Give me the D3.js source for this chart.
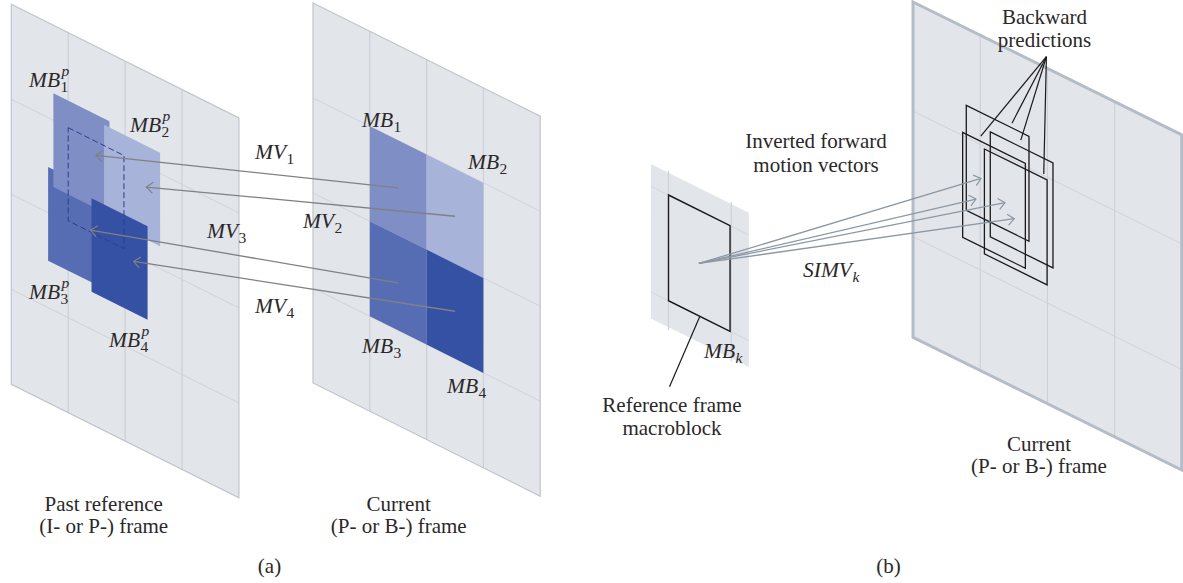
<!DOCTYPE html>
<html><head><meta charset="utf-8">
<script src="https://cdn.jsdelivr.net/npm/d3@7"></script>
<style>
html,body{margin:0;padding:0;background:#fff;overflow:hidden}
svg{display:block}
text{font-family:"Liberation Serif",serif;fill:#2b2829}
</style></head><body>
<svg id="c" width="1183" height="583"></svg>
<script>
// ---- data: everything is in grid-cell units of each frame (u across, v down)
const gridRowsPast = [1, 2, 3];
const gridColsPast = [1, 2, 3];
const gridRowsBack = [0.867, 1.867];
const gridColsBack = [1, 2, 3];
const blocksCurrent = [
  {name: "MB1", u: 1, v: 1, shade: "#7f8ec4"},
  {name: "MB2", u: 2, v: 1, shade: "#a8b3da"},
  {name: "MB3", u: 1, v: 2, shade: "#566db3"},
  {name: "MB4", u: 2, v: 2, shade: "#3451a4"}
];
const blocksPast = [
  {name: "MB3p", u: 0.647, v: 1.52, shade: "#566db3"},
  {name: "MB1p", u: 0.74,  v: 0.716, shade: "#7f8ec4"},
  {name: "MB2p", u: 1.63,  v: 0.78, shade: "#a8b3da"},
  {name: "MB4p", u: 1.41,  v: 1.62, shade: "#3451a4"}
];
const colocated = {u: 1, v: 1};
const motionVectors = [
  {from: [1.5, 1.5], to: [1.487, 1.145]},
  {from: [2.5, 1.5], to: [2.373, 1.214]},
  {from: [1.5, 2.5], to: [1.392, 1.96]},
  {from: [2.5, 2.5], to: [2.15, 2.063]}
];
const backwardBlocks = [
  {u: 0.793, v: 0.6126},
  {u: 0.739, v: 0.8417},
  {u: 1.15,  v: 0.730},
  {u: 1.0625, v: 0.8886}
];
const simvEnds = [[1.011, 1.137], [0.9375, 1.32], [1.369, 1.235], [1.507, 1.326]];
const leaderOrigin = [1.985, -0.089];
const leaderEnds = [[1.009, 0.8], [1.473, 0.575], [1.604, 0.675], [1.946, 0.854]];
const refOrigin = [0.484, 0.505];
const refLeader = [[0.5, 1.0], [0.016, 1.81]];

const mathLabels = [
  ["MB","1","p",29,87],["MB","2","p",130,132],["MB","3","p",29,299],["MB","4","p",109,347],
  ["MV","1",null,255,159],["MV","2",null,303,228],["MV","3",null,207,238],["MV","4",null,255,313],
  ["MB","1",null,362,127],["MB","2",null,468,169],["MB","3",null,362,353],["MB","4",null,447,393],
  ["MB","k",null,704,358],["SIMV","k",null,803,277]
];
const captions = [
  ["Past reference",103.7,511],["(I- or P-) frame",103.7,533],
  ["Current",398.7,511],["(P- or B-) frame",398.7,533],
  ["(a)",269.5,573],["(b)",888.5,573],
  ["Current",1039,451],["(P- or B-) frame",1039,473],
  ["Reference frame",672,412],["macroblock",672,434.5],
  ["Inverted forward",816,148],["motion vectors",816,172],
  ["Backward",1044.5,24],["predictions",1044.5,47]
];

// ---- planes: linear scales from grid units to the page
function plane(x0, cw, y0, ch, skew) {
  const sx = d3.scaleLinear().domain([0, 1]).range([x0, x0 + cw]);
  const sy = d3.scaleLinear().domain([0, 1]).range([y0, y0 + ch]);
  const sk = d3.scaleLinear().domain([0, 1]).range([0, skew]);
  return (u, v) => [sx(u), sy(v) + sk(u)];
}
const past = plane(11.3, 56.9, 4.3, 95, 28.4);
const curr = plane(313, 56.8, 3, 95, 28.3);
const back = plane(913, 67.2, 2, 125.7, 33.2);
const ref  = plane(668.5, 62.8, 195, 105.7, 31.2);

const svg = d3.select("#c");
const line = d3.line();
const defs = svg.append("defs");
function marker(id, col) {
  defs.append("marker").attr("id", id).attr("markerUnits", "userSpaceOnUse")
    .attr("viewBox", "-9 -7 10 14").attr("markerWidth", 10).attr("markerHeight", 14)
    .attr("refX", 0).attr("refY", 0).attr("orient", "auto")
    .append("path").attr("d", "M-6.5,-5.5L0,0L-6.5,5.5").attr("fill", "none")
    .attr("stroke", col).attr("stroke-width", 1.2);
}
marker("gray", "#7f8183");
marker("slate", "#8b98a4");

function quad(p, u, v, w, h) {
  return line([p(u, v), p(u + w, v), p(u + w, v + h), p(u, v + h)]) + "Z";
}
function drawFrame(p, us, vs, uMax, vMax, border, bw, gw) {
  const g = svg.append("g");
  g.append("path").attr("d", quad(p, 0, 0, uMax, vMax)).attr("fill", "#e2e5ea");
  g.selectAll("path.c").data(us).join("path").attr("class", "c")
    .attr("d", u => line([p(u, 0), p(u, vMax)])).attr("stroke", "#cdd0d6").attr("stroke-width", gw).attr("fill", "none");
  g.selectAll("path.r").data(vs).join("path").attr("class", "r")
    .attr("d", v => line([p(0, v), p(uMax, v)])).attr("stroke", "#d0d3d8").attr("stroke-width", 1).attr("fill", "none");
  g.append("path").attr("d", quad(p, 0, 0, uMax, vMax)).attr("fill", "none")
    .attr("stroke", border).attr("stroke-width", bw);
}
drawFrame(past, gridColsPast, gridRowsPast, 4, 4, "#c0c4cb", 1.2, 1.2);
drawFrame(curr, gridColsPast, gridRowsPast, 4, 4, "#c0c4cb", 1.2, 1.2);
drawFrame(back, gridColsBack, gridRowsBack, 4, 2.667, "#b4bcc6", 3, 1.1);

// small reference frame (a cropped piece of a grid, no border)
const refExtent = {u0: -0.28, u1: 1.28, v0: -0.21, v1: 1.25};
svg.append("path").attr("d", quad(ref, refExtent.u0, refExtent.v0, refExtent.u1 - refExtent.u0, refExtent.v1 - refExtent.v0)).attr("fill", "#e2e5ea");
svg.selectAll("path.rc").data([0, 1]).join("path").attr("class", "rc")
  .attr("d", u => line([ref(u, refExtent.v0 - 0.02), ref(u, refExtent.v1 + 0.03)]))
  .attr("stroke", "#cdd0d6").attr("stroke-width", 1.1).attr("fill", "none");
svg.selectAll("path.rr").data([0, 1]).join("path").attr("class", "rr")
  .attr("d", v => line([ref(refExtent.u0, v), ref(refExtent.u1, v)]))
  .attr("stroke", "#d3d6db").attr("stroke-width", 1).attr("fill", "none");

// blocks
svg.selectAll("path.bc").data(blocksCurrent).join("path").attr("class", "bc")
  .attr("d", d => quad(curr, d.u, d.v, 1, 1)).attr("fill", d => d.shade);
svg.selectAll("path.bp").data(blocksPast).join("path").attr("class", "bp")
  .attr("d", d => quad(past, d.u, d.v, 0.985, 0.985)).attr("fill", d => d.shade);
svg.append("path").attr("d", quad(past, colocated.u, colocated.v, 0.98, 0.98))
  .attr("fill", "none").attr("stroke", "#2f3b8f").attr("stroke-width", 1).attr("stroke-dasharray", "6 3");

// motion vectors
svg.selectAll("path.mv").data(motionVectors).join("path").attr("class", "mv")
  .attr("d", d => line([curr(...d.from), past(...d.to)]))
  .attr("fill", "none").attr("stroke", "#7f8183").attr("stroke-width", 1.3).attr("marker-end", "url(#gray)");

// part (b) outlines
svg.append("path").attr("d", quad(ref, 0, 0, 0.98, 1)).attr("fill", "none").attr("stroke", "#1c1a1b").attr("stroke-width", 1.4);
svg.selectAll("path.bb").data(backwardBlocks).join("path").attr("class", "bb")
  .attr("d", d => quad(back, d.u, d.v, 0.933, 0.835)).attr("fill", "none").attr("stroke", "#1c1a1b").attr("stroke-width", 1.3);

// vectors between ref block and current frame
svg.selectAll("path.sv").data(simvEnds).join("path").attr("class", "sv")
  .attr("d", d => line([ref(...refOrigin), back(...d)]))
  .attr("fill", "none").attr("stroke", "#8b98a4").attr("stroke-width", 1.3).attr("marker-end", "url(#slate)");

// leaders
svg.selectAll("path.ld").data(leaderEnds).join("path").attr("class", "ld")
  .attr("d", d => line([back(...leaderOrigin), back(...d)]))
  .attr("fill", "none").attr("stroke", "#1c1a1b").attr("stroke-width", 1.2);
svg.append("path").attr("d", line(refLeader.map(d => ref(...d))))
  .attr("fill", "none").attr("stroke", "#1c1a1b").attr("stroke-width", 1.2);

// captions
const captionSize = 21;
svg.selectAll("text.cap").data(captions).join("text").attr("class", "cap")
  .attr("x", d => d[1]).attr("y", d => d[2]).attr("text-anchor", "middle")
  .attr("font-size", captionSize).text(d => d[0]);

// math labels
mathLabels.forEach(([base, sub, sup, x, y]) => {
  const t = svg.append("text").attr("x", x).attr("y", y)
    .attr("font-size", 21.5).attr("font-style", "italic").text(base);
  const w = t.node().getComputedTextLength();
  svg.append("text").attr("x", x + w + 0.5).attr("y", y + 5)
    .attr("font-size", 15.5).attr("font-style", sub === "k" ? "italic" : "normal").text(sub);
  if (sup) svg.append("text").attr("x", x + w + 1.5).attr("y", y - 11)
    .attr("font-size", 15.5).attr("font-style", "italic").text(sup);
});
</script>
</body></html>
